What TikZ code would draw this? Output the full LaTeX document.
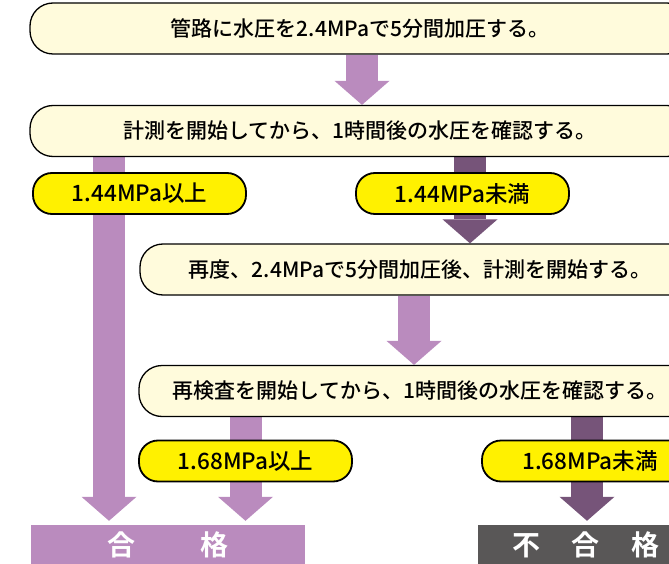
\documentclass[tikz,border=0pt]{standalone}
\usepackage{fontspec}
\setmainfont{Noto Sans CJK JP Medium}[BoldFont={Noto Sans CJK JP Bold}]
\usetikzlibrary{%
	arrows.meta,%
	backgrounds,%
}
\definecolor{cpurple}{RGB}{186, 139, 190}
\definecolor{cpurpledark}{RGB}{118, 84, 121}
\definecolor{cgray}{RGB}{89, 87, 87}
\definecolor{ccream}{RGB}{255, 251, 220}
\definecolor{cyellow}{RGB}{255, 241, 0}
\tikzset{
	stepnode/.style={%
			draw,%
			line width=1.3pt,%
			rounded corners=23pt,%
			fill=ccream,%
			minimum height=51pt,%
			inner sep=0,%
			font={\fontsize{21}{21}\selectfont}},%
	condnode/.style={%
			draw,%
			line width=1.8pt,%
			rounded corners=19pt,%
			fill=cyellow,%
			minimum width=213pt,%
			minimum height=41pt,%
			inner sep=0,%
			font={\fontsize{22.5}{22.5}\selectfont}},%
	resultnode/.style={%
			rectangle,%
			minimum height=40pt,%
			inner sep=0,%
			text=white,%
			font={\bfseries\fontsize{28}{28}\selectfont}},%
	flow/.style={%
			line width=32pt,%
			-{Triangle[width=55pt, length=24pt, line width=0pt]}},%
}

\begin{document}
\begin{tikzpicture}[x=1pt, y=-1pt]
	\useasboundingbox (0,0) rectangle (669,564);

	\node[stepnode, minimum width=660pt] (press) at (360,28.5) {管路に水圧を2.4MPaで5分間加圧する。};
	\node[stepnode, minimum width=660pt] (check) at (360,131) {計測を開始してから、1時間後の水圧を確認する。};
	\node[stepnode, minimum width=560pt] (repress) at (420,269.5) {再度、2.4MPaで5分間加圧後、計測を開始する。};
	\node[stepnode, minimum width=562pt] (recheck) at (420,391) {再検査を開始してから、1時間後の水圧を確認する。};

	\node[condnode] (okfirst) at (139.5,193.5) {1.44MPa以上};
	\node[condnode] (ngfirst) at (462.5,193.5) {1.44MPa未満};
	\node[condnode] (oksecond) at (245.5,461) {1.68MPa以上};
	\node[condnode, minimum width=216pt] (ngsecond) at (590,461) {1.68MPa未満};

	\node[resultnode, fill=cpurple, minimum width=274pt] (pass) at (168,545) {合\hspace{66pt}格};
	\node[resultnode, fill=cgray, minimum width=216pt] (fail) at (586,545) {不\hspace{32pt}合\hspace{32pt}格};

	\begin{scope}[on background layer]
		\draw[flow, cpurple] (press.south -| 362,0) to (check.north -| 362,0);
		\draw[flow, cpurple, shorten >=4pt] (check.south -| 109,0) to (pass.north -| 109,0);
		\draw[flow, cpurpledark] (check.south -| 470,0) to (repress.north -| 470,0);
		\draw[flow, cpurple] (repress.south -| 414,0) to (recheck.north -| 414,0);
		\draw[flow, cpurple, shorten >=4pt] (recheck.south -| oksecond) to (pass.north -| oksecond);
		\draw[flow, cpurpledark, shorten >=4pt] (recheck.south -| 587,0) to (fail.north -| 587,0);
	\end{scope}
\end{tikzpicture}
\end{document}
